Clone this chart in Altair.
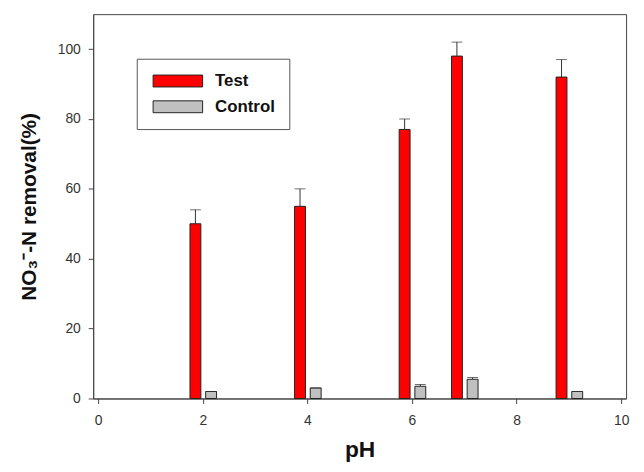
import altair as alt
import pandas as pd

ph = [2, 4, 6, 7, 9]
test_vals = [50, 55, 77, 98, 92]
test_err = [4, 5, 3, 4, 5]
control_vals = [2, 3, 3.5, 5.5, 2]
control_err = [0, 0, 0.5, 0.5, 0]
series = ["Test", "Control"]
colors = ["#ff0000", "#c0c0c0"]
offsets = {"Test": -0.14, "Control": 0.16}

rows = []
for i, p in enumerate(ph):
    for s, vals, errs in (("Test", test_vals, test_err), ("Control", control_vals, control_err)):
        rows.append({"series": s, "ph": p, "pos": p + offsets[s],
                     "value": vals[i], "top": vals[i] + errs[i]})
df = pd.DataFrame(rows)

xs = alt.Scale(domain=[0, 10], nice=False, zero=False)
ys = alt.Scale(domain=[0, 110], nice=False)

base = alt.Chart(df)

bars = base.mark_bar(size=11, stroke="#222222", strokeWidth=1).encode(
    x=alt.X("pos:Q", scale=xs,
            axis=alt.Axis(title="pH", values=[0, 2, 4, 6, 8, 10], format="d")),
    y=alt.Y("value:Q", scale=ys,
            axis=alt.Axis(title="NO₃⁻-N removal(%)", values=[0, 20, 40, 60, 80, 100])),
    color=alt.Color("series:N", scale=alt.Scale(domain=series, range=colors),
                    legend=alt.Legend(
                        title=None, orient="none", legendX=44, legendY=45,
                        symbolType="M-1,-1L7.33,-1L7.33,1L-1,1Z", symbolSize=144,
                        symbolStrokeColor="#222222", symbolStrokeWidth=1,
                        symbolOpacity=1, labelOffset=48,
                        labelFont="Liberation Sans", labelFontSize=17,
                        labelFontWeight="bold", labelColor="#111111",
                        rowPadding=8, padding=14,
                        strokeColor="#555555", fillColor="white")),
)

err_rule = base.mark_rule(color="#333333", strokeWidth=1).encode(
    x=alt.X("pos:Q", scale=xs),
    y=alt.Y("value:Q", scale=ys),
    y2="top:Q",
)

caps = base.mark_tick(orient="horizontal", size=11, thickness=1, color="#333333").encode(
    x=alt.X("pos:Q", scale=xs),
    y=alt.Y("top:Q", scale=ys),
)

chart = alt.layer(err_rule, bars, caps).properties(
    width=538, height=388,
    autosize=alt.AutoSizeParams(type="none"),
    padding={"left": 86, "top": 4, "right": 10, "bottom": 72},
).configure_view(
    stroke="#444444", strokeWidth=1
).configure_axis(
    grid=False, domainColor="#444444", tickColor="#444444",
    tickSize=5, labelFont="Liberation Sans", labelFontSize=14,
    labelColor="#333333", titleFont="Liberation Sans", titleFontWeight="bold",
    titleColor="#111111",
).configure_axisX(
    titleFontSize=23, titlePadding=12, labelPadding=10
).configure_axisY(
    titleFontSize=21, titlePadding=18, labelPadding=8
)

chart.save("out.html", embed_options={"renderer": "svg", "actions": False})
